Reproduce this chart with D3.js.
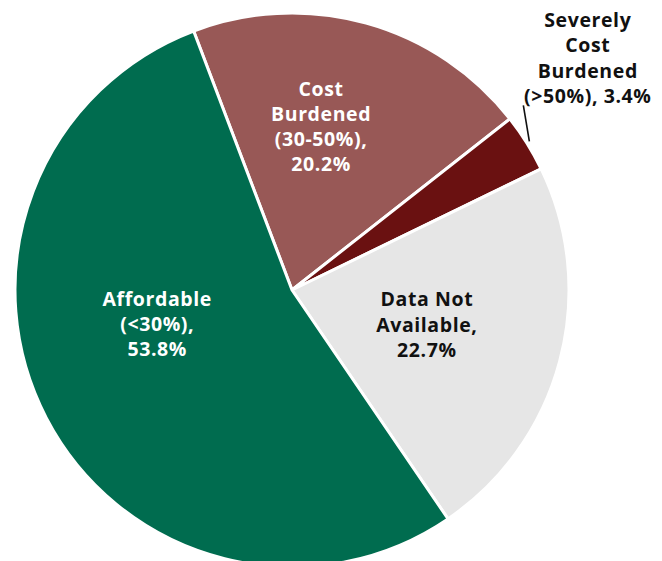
<!DOCTYPE html>
<html>
<head>
<meta charset="utf-8">
<script src="https://cdn.jsdelivr.net/npm/d3@7"></script>
<style>
  html, body { margin: 0; padding: 0; background: #fff; }
  svg { display: block; }
  text { font-family: "Open Sans", "Noto Sans", sans-serif; font-weight: 700; }
</style>
</head>
<body>
<svg id="chart" width="662" height="561"></svg>
<script>
// Housing cost burden shares (percent of households)
const categories = ["Cost Burdened (30-50%)", "Severely Cost Burdened (>50%)", "Data Not Available", "Affordable (<30%)"];
const values = [20.2, 3.4, 22.7, 53.8];
const labelLines = [
  ["Cost", "Burdened", "(30-50%),", "20.2%"],
  ["Severely", "Cost", "Burdened", "(>50%), 3.4%"],
  ["Data Not", "Available,", "22.7%"],
  ["Affordable", "(<30%),", "53.8%"]
];
const colors = ["#985856", "#6a1111", "#e6e6e6", "#006c4f"];
const textColors = ["#ffffff", "#111111", "#111111", "#ffffff"];

// Label placement: nudge from the slice centroid (inside) or outer edge (outside)
const labelOutside = [false, true, false, false];
const labelNudge = [[-8, -23], [61, -78], [1, 6], [-12, -23]];

const svg = d3.select("#chart");
const cx = 292, cy = 290, R = 277;
const lineH = 25.2;

const startA = -20.8 * Math.PI / 180;
const pie = d3.pie().sort(null).value(d => d)
  .startAngle(startA).endAngle(startA + 2 * Math.PI);
const arcs = pie(values);
const arc = d3.arc().innerRadius(0).outerRadius(R);

const g = svg.append("g").attr("transform", `translate(${cx},${cy})`);

g.selectAll("path.slice")
  .data(arcs)
  .join("path")
  .attr("class", "slice")
  .attr("d", arc)
  .attr("fill", (d, i) => colors[i])
  .attr("stroke", "#ffffff")
  .attr("stroke-width", 3)
  .attr("stroke-linejoin", "round");

function edgePoint(angle, r) {
  return [r * Math.sin(angle), -r * Math.cos(angle)];
}

// Leader line for the small outside-labelled slice
arcs.forEach((d, i) => {
  if (!labelOutside[i]) return;
  const mid = (d.startAngle + d.endAngle) / 2;
  const p0 = edgePoint(mid, R + 3);
  g.append("line")
    .attr("x1", p0[0]).attr("y1", p0[1])
    .attr("x2", p0[0] - 6).attr("y2", p0[1] - 36)
    .attr("stroke", "#111").attr("stroke-width", 1.6);
});

arcs.forEach((d, i) => {
  const mid = (d.startAngle + d.endAngle) / 2;
  const base = labelOutside[i] ? edgePoint(mid, R) : arc.centroid(d);
  const ax = base[0] + labelNudge[i][0];
  const ay = base[1] + labelNudge[i][1];
  const lines = labelLines[i];
  const t = g.append("text")
    .attr("text-anchor", "middle")
    .attr("fill", textColors[i])
    .attr("font-size", 19.5)
    .attr("letter-spacing", 0.6);
  lines.forEach((ln, k) => {
    t.append("tspan")
      .attr("x", ax)
      .attr("y", ay + (k - (lines.length - 1) / 2) * lineH)
      .text(ln);
  });
});
</script>
</body>
</html>
